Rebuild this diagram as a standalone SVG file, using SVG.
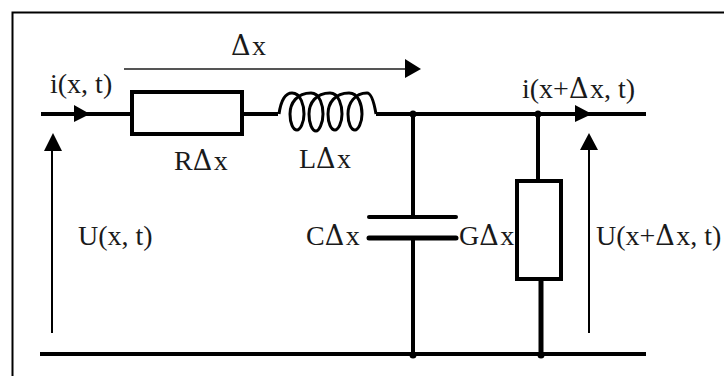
<svg xmlns="http://www.w3.org/2000/svg" width="724" height="376" viewBox="0 0 724 376">
<style>
.w{fill:none;stroke:#000;stroke-width:4}
.t{fill:none;stroke:#000;stroke-width:2}
.e{fill:#000}
text{font-family:"Liberation Serif","Times New Roman",serif;font-size:28px;fill:#1a1a1a}
.d{font-family:"DejaVu Serif",serif;font-size:27px;letter-spacing:1.5px}
</style>
<defs>
<path id="coil" d="M0 0C2 -14 7 -21 13 -21C22 -21 25 -8 25 0C25 9 21 16 18 16C14 16 11 9 11 0C11 -11 18 -21 32 -21C41 -21 44 -8 44 0C44 9 40 17 37 17C33 17 30 9 30 0C30 -11 37 -21 51 -21C60 -21 63 -8 63 0C63 9 59 16 56 16C52 16 49 9 49 0C49 -11 56 -21 70 -21C80 -21 83 -8 83 0C83 9 79 16 76 16C72 16 69 9 69 0C69 -11 76 -21 88 -21C92 -21 95 -12 97 0"/>
</defs>
<path d="M12.5 376V12.5H724" fill="none" stroke="#000" stroke-width="2"/>
<g id="connectors">
<path class="w" d="M41 114H131M243 114H278M376 114H646"/>
<path class="w" d="M40 354H646"/>
<path class="w" d="M413 114V216M413 238V354M538 114V181"/>
<path d="M541 280V354" fill="none" stroke="#000" stroke-width="5"/>
<path d="M124 69H405" fill="none" stroke="#555" stroke-width="2"/>
<path class="t" d="M52 150V333M589 150V333"/>
<path class="e" d="M74 105L90 114L74 122ZM405 59L421 69L405 78ZM575 105L592 114L575 122ZM44 151L53 133L62 151ZM580 150L589 133L598 150Z"/>
<circle class="e" cx="413" cy="114" r="3.5"/><circle class="e" cx="538" cy="114" r="3.5"/>
<circle class="e" cx="413" cy="355" r="3.5"/><circle class="e" cx="541" cy="355" r="3.5"/>
</g>
<g id="resistor-r"><rect class="w" x="132" y="92" width="110" height="42" fill="#fff"/></g>
<g id="inductor-l"><use href="#coil" x="279" y="114" class="t" style="stroke-width:3"/></g>
<g id="capacitor-c"><path d="M369 217H456" fill="none" stroke="#000" stroke-width="4" stroke-linecap="round"/><path d="M369 238H456" fill="none" stroke="#000" stroke-width="5" stroke-linecap="round"/></g>
<g id="conductance-g"><rect class="w" x="517" y="181" width="44" height="98" fill="#fff"/></g>
<g id="labels">
<text x="231" y="55"><tspan class="d">Δ</tspan>x</text>
<text x="50" y="93">i(x, t)</text>
<text x="174" y="170">R<tspan class="d">Δ</tspan>x</text>
<text x="299" y="168">L<tspan class="d">Δ</tspan>x</text>
<text x="78" y="245">U(x, t)</text>
<text x="306" y="245">C<tspan class="d">Δ</tspan>x</text>
<text x="459" y="245">G<tspan class="d">Δ</tspan>x</text>
<text x="522" y="98">i(x+<tspan class="d">Δ</tspan>x, t)</text>
<text x="596" y="245">U(x+<tspan class="d">Δ</tspan>x, t)</text>
</g>
</svg>
